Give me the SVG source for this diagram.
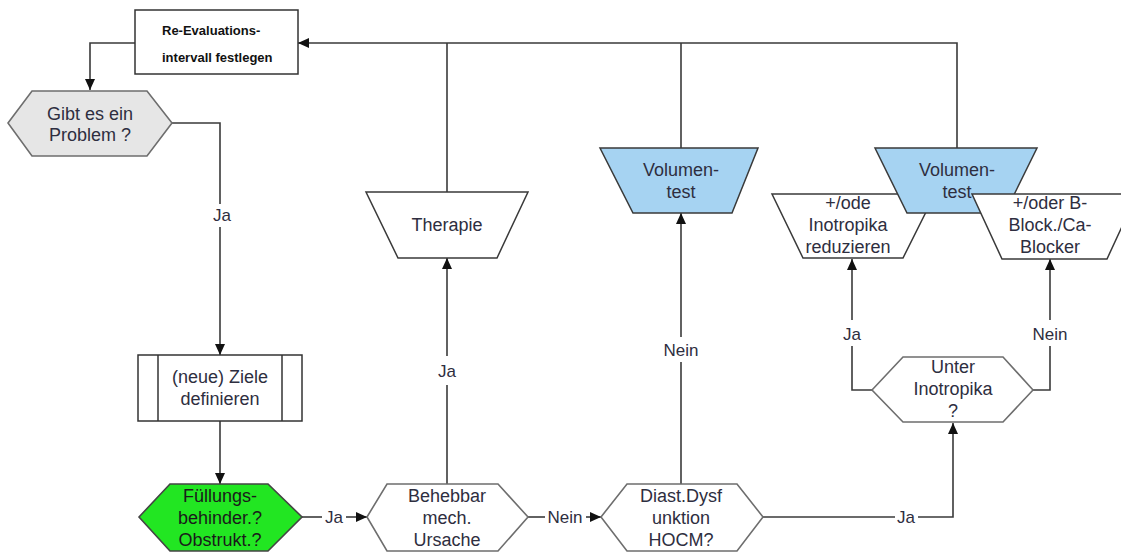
<svg xmlns="http://www.w3.org/2000/svg" width="1121" height="554" viewBox="0 0 1121 554">
<defs>
<marker id="arr" markerUnits="userSpaceOnUse" markerWidth="12" markerHeight="10" refX="11" refY="5" orient="auto">
<path d="M0,0 L11,5 L0,10 z" fill="#111"/>
</marker>
<style>
.n{font-family:"Liberation Sans",Arial,sans-serif;font-size:18px;fill:#2e2e40;text-anchor:middle}
.l{font-family:"Liberation Sans",Arial,sans-serif;font-size:17px;fill:#2e2e40;text-anchor:middle}
.b{font-family:"Liberation Sans",Arial,sans-serif;font-size:13px;font-weight:bold;fill:#111}
.hex{stroke:#6e6e6e;stroke-width:1.6}
.tr{stroke:#3a3a3a;stroke-width:1.5}
.c{fill:none;stroke:#3a3a3a;stroke-width:1.6}
</style>
</defs>
<rect width="1121" height="554" fill="#fff"/>

<g id="connectors">
<path class="c" d="M135,43 H90 V90" marker-end="url(#arr)"/>
<path class="c" d="M172,123 H220 V204"/>
<path class="c" d="M220,227 V355" marker-end="url(#arr)"/>
<path class="c" d="M220,421 V484" marker-end="url(#arr)"/>
<path class="c" d="M302,517 H322"/>
<path class="c" d="M346,517 H367" marker-end="url(#arr)"/>
<path class="c" d="M528,517 H545"/>
<path class="c" d="M586,517 H601" marker-end="url(#arr)"/>
<path class="c" d="M447,484 V385"/>
<path class="c" d="M447,356 V258" marker-end="url(#arr)"/>
<path class="c" d="M447,192 V43"/>
<path class="c" d="M681,484 V362"/>
<path class="c" d="M681,337 V213" marker-end="url(#arr)"/>
<path class="c" d="M681,148 V43"/>
<path class="c" d="M957,148 V43 H298" marker-end="url(#arr)"/>
<path class="c" d="M763,517 H895"/>
<path class="c" d="M918,517 H953 V423" marker-end="url(#arr)"/>
<path class="c" d="M872,390 H852 V346"/>
<path class="c" d="M852,320 V259" marker-end="url(#arr)"/>
<path class="c" d="M1033,390 H1050 V346"/>
<path class="c" d="M1050,320 V259" marker-end="url(#arr)"/>
<text class="l" x="222" y="221">Ja</text>
<text class="l" x="334" y="523">Ja</text>
<text class="l" x="565" y="523">Nein</text>
<text class="l" x="447" y="377">Ja</text>
<text class="l" x="681" y="356">Nein</text>
<text class="l" x="906" y="523">Ja</text>
<text class="l" x="852" y="340">Ja</text>
<text class="l" x="1050" y="340">Nein</text>
</g>

<g id="reeval">
<rect x="135" y="10" width="163" height="64" fill="#fff" stroke="#333" stroke-width="1.5"/>
<text class="b" x="162" y="35">Re-Evaluations-</text>
<text class="b" x="162" y="62">intervall festlegen</text>
</g>

<g id="problem">
<polygon class="hex" points="8,123 32,91 147,91 172,123 147,156 32,156" fill="#e6e6e6"/>
<text class="n" x="90" y="120">Gibt es ein</text>
<text class="n" x="90" y="141">Problem ?</text>
</g>

<g id="ziele">
<rect x="138" y="355" width="164" height="66" fill="#fff" stroke="#333" stroke-width="1.5"/>
<line x1="158" y1="355" x2="158" y2="421" stroke="#333" stroke-width="1.5"/>
<line x1="282" y1="355" x2="282" y2="421" stroke="#333" stroke-width="1.5"/>
<text class="n" x="220" y="383">(neue) Ziele</text>
<text class="n" x="220" y="405">definieren</text>
</g>

<g id="fuellung">
<polygon class="hex" points="139,517 170,484 268,484 302,517 268,551 170,551" fill="#22e622" style="stroke:#444"/>
<text class="n" x="220" y="502" style="fill:#1a1a1a">Füllungs-</text>
<text class="n" x="220" y="524" style="fill:#1a1a1a">behinder.?</text>
<text class="n" x="220" y="546" style="fill:#1a1a1a">Obstrukt.?</text>
</g>

<g id="behebbar">
<polygon class="hex" points="367,517 387,484 498,484 528,517 498,551 387,551" fill="#fff"/>
<text class="n" x="447" y="502">Behebbar</text>
<text class="n" x="447" y="524">mech.</text>
<text class="n" x="447" y="546">Ursache</text>
</g>

<g id="diast">
<polygon class="hex" points="601,517 627,484 737,484 763,517 737,551 627,551" fill="#fff"/>
<text class="n" x="681" y="502">Diast.Dysf</text>
<text class="n" x="681" y="524">unktion</text>
<text class="n" x="681" y="546">HOCM?</text>
</g>

<g id="therapie">
<polygon class="tr" points="366,192 528,192 497,258 398,258" fill="#fff"/>
<text class="n" x="447" y="231">Therapie</text>
</g>

<g id="volumentest1">
<polygon class="tr" points="600,148 758,148 732,213 633,213" fill="#a6d3f2"/>
<text class="n" x="681" y="176">Volumen-</text>
<text class="n" x="681" y="198">test</text>
</g>

<g id="unter">
<polygon class="hex" points="872,390 903,357 1003,357 1033,390 1003,422 903,422" fill="#fff"/>
<text class="n" x="953" y="373">Unter</text>
<text class="n" x="953" y="395">Inotropika</text>
<text class="n" x="953" y="417">?</text>
</g>

<g id="inoreduz">
<polygon class="tr" points="772,194 935,194 903,258 803,258" fill="#fff"/>
<text class="n" x="848" y="209">+/ode</text>
<text class="n" x="848" y="231">Inotropika</text>
<text class="n" x="848" y="253">reduzieren</text>
</g>

<g id="volumentest2">
<polygon class="tr" points="875,148 1037,148 1005,213 907,213" fill="#a6d3f2"/>
<text class="n" x="957" y="176">Volumen-</text>
<text class="n" x="957" y="198">test</text>
</g>

<g id="bblock">
<polygon class="tr" points="972,194 1137,194 1107,259 1002,259" fill="#fff"/>
<text class="n" x="1050" y="209">+/oder B-</text>
<text class="n" x="1050" y="231">Block./Ca-</text>
<text class="n" x="1050" y="253">Blocker</text>
</g>
</svg>
